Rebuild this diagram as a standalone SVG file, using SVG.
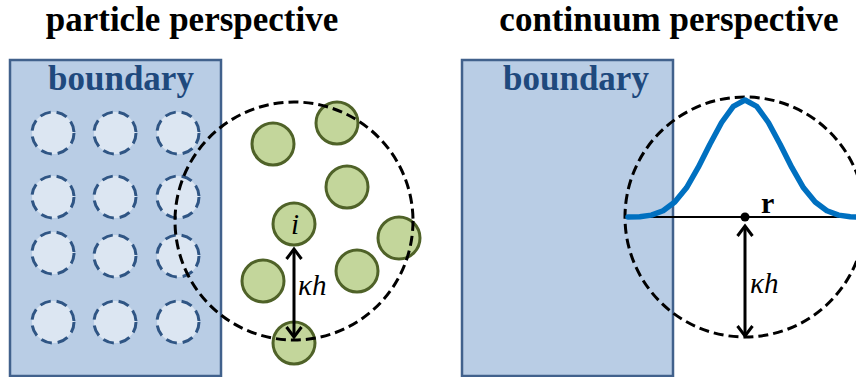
<svg xmlns="http://www.w3.org/2000/svg" width="856" height="377" viewBox="0 0 856 377">
<style>
.title{font-family:"Liberation Serif","Times New Roman","DejaVu Serif",serif;font-weight:bold;font-size:35px;fill:#000}
.bnd{font-family:"Liberation Serif","Times New Roman","DejaVu Serif",serif;font-weight:bold;font-size:35px;fill:#1f497d}
.rect{fill:#b9cde5;stroke:#41618c;stroke-width:2.5}
.ghost{fill:#dce6f2;stroke:#2f5584;stroke-width:3;stroke-dasharray:11 6}
.part{fill:#c3d69b;stroke:#4f6228;stroke-width:3}
.kernel{fill:none;stroke:#000;stroke-width:3;stroke-dasharray:10 5}
.math{font-family:"Liberation Serif","Times New Roman","DejaVu Serif",serif;font-style:italic;font-size:29px;fill:#000}
.bold{font-family:"Liberation Serif","Times New Roman","DejaVu Serif",serif;font-weight:bold;font-size:30px;fill:#000}
.arrow{stroke:#000;stroke-width:3;fill:none}
</style>
<defs>
<marker id="ah" markerUnits="userSpaceOnUse" markerWidth="24" markerHeight="24" viewBox="-12 -12 24 24" refX="0" refY="0" orient="auto-start-reverse" overflow="visible">
<path d="M-10,-7.5 L0,0 L-10,7.5" fill="none" stroke="#000" stroke-width="3" stroke-linejoin="miter"/>
</marker>
</defs>

<text class="title" x="192" y="31" text-anchor="middle">particle perspective</text>
<text class="title" x="669" y="31" text-anchor="middle">continuum perspective</text>

<g id="left-boundary">
<rect class="rect" x="10" y="60" width="211" height="316"/>
<text class="bnd" x="48" y="90">boundary</text>
</g>
<g id="ghost-particles">
<circle class="ghost" cx="53" cy="133" r="21"/>
<circle class="ghost" cx="115" cy="133" r="21"/>
<circle class="ghost" cx="178" cy="133" r="21"/>
<circle class="ghost" cx="53" cy="197" r="21"/>
<circle class="ghost" cx="115" cy="197" r="21"/>
<circle class="ghost" cx="178" cy="197" r="21"/>
<circle class="ghost" cx="53" cy="253" r="21"/>
<circle class="ghost" cx="115" cy="256" r="21"/>
<circle class="ghost" cx="178" cy="256" r="21"/>
<circle class="ghost" cx="53" cy="322" r="21"/>
<circle class="ghost" cx="115" cy="322" r="21"/>
<circle class="ghost" cx="178" cy="322" r="21"/>
</g>
<g id="fluid-particles">
<circle class="part" cx="337" cy="123" r="21"/>
<circle class="part" cx="273" cy="144" r="21"/>
<circle class="part" cx="347" cy="187" r="21"/>
<circle class="part" cx="294" cy="224" r="21"/>
<circle class="part" cx="399" cy="238" r="21"/>
<circle class="part" cx="263" cy="281" r="21"/>
<circle class="part" cx="357" cy="271" r="21"/>
<circle class="part" cx="294" cy="343" r="21"/>
</g>
<g id="left-kernel">
<circle class="kernel" cx="294" cy="221" r="119"/>
</g>
<text class="math" x="295" y="234" text-anchor="middle">i</text>

<g id="right-boundary">
<rect class="rect" x="462" y="60" width="211" height="316"/>
<text class="bnd" x="503" y="90">boundary</text>
</g>
<g id="right-kernel">
<circle class="kernel" cx="745" cy="217" r="120"/>
<line x1="628" y1="217" x2="856" y2="217" stroke="#000" stroke-width="2"/>
<polyline fill="none" stroke="#0070c0" stroke-width="5.5" stroke-linejoin="round" stroke-linecap="round" points="628,217 639.7,216.8 651.4,215.1 663.1,210.7 674.8,202 686.5,187.8 698.2,167.4 709.9,144.2 721.6,122.5 733.3,106.3 745,100 756.7,106.3 768.4,122.5 780.1,144.2 791.8,167.4 803.5,187.8 815.2,202 826.9,210.7 838.6,215.1 850.3,216.8 862,217"/>
<circle cx="745" cy="217" r="4.5" fill="#000"/>
<text class="bold" x="761" y="213">r</text>
</g>

<g id="connectors">
<line class="arrow" x1="294" y1="249" x2="294" y2="337" marker-start="url(#ah)" marker-end="url(#ah)"/>
<line class="arrow" x1="745" y1="226" x2="745" y2="336" marker-start="url(#ah)" marker-end="url(#ah)"/>
</g>
<text class="math" x="298" y="295">κh</text>
<text class="math" x="750" y="293">κh</text>
</svg>
